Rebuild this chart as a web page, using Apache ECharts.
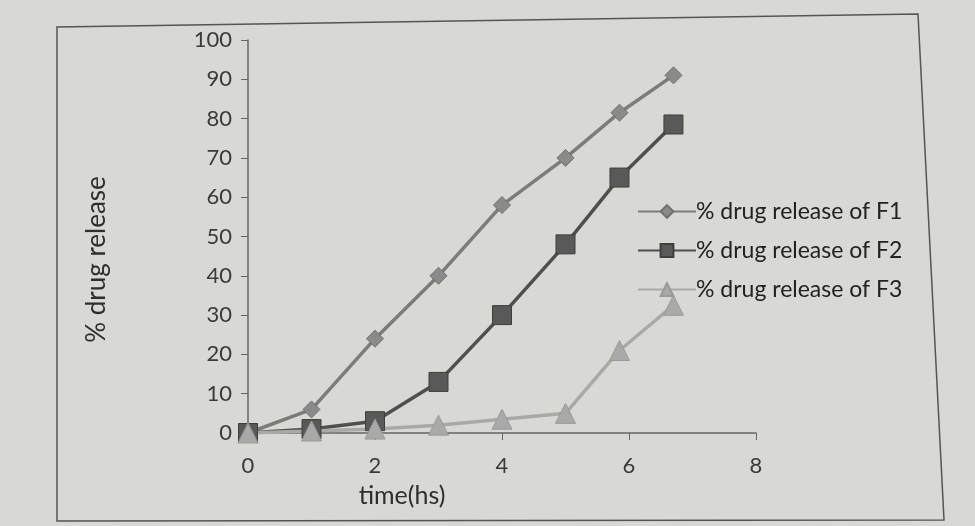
<!DOCTYPE html>
<html>
<head>
<meta charset="utf-8">
<script src="https://cdn.jsdelivr.net/npm/echarts@6/dist/echarts.min.js"></script>
<style>
html,body{margin:0;padding:0;background:#d8d8d5;}
#c{width:975px;height:526px;}
</style>
</head>
<body>
<div id="c"></div>
<script>
const timeHours = [0, 1, 2, 3, 4, 5, 5.85, 6.7];
const releaseF1 = [0, 6, 24, 40, 58, 70, 81.5, 91];
const releaseF2 = [0, 1, 3, 13, 30, 48, 65, 78.5];
const releaseF3 = [0, 0.5, 1, 2, 3.5, 5, 21, 32.5];
const seriesNames = ['% drug release of F1', '% drug release of F2', '% drug release of F3'];
const xTicks = [0, 2, 4, 6, 8];
const yTicks = [0, 10, 20, 30, 40, 50, 60, 70, 80, 90, 100];

const pairs = v => timeHours.map((t, i) => [t, v[i]]);
const font = 'Lato, "Open Sans", sans-serif';

const chart = echarts.init(document.getElementById('c'));
chart.setOption({
  backgroundColor: 'transparent',
  animation: false,
  textStyle: { fontFamily: font },
  graphic: [{
    type: 'polygon',
    shape: { points: [[57, 27], [918, 14], [944, 520], [57, 521]] },
    style: { fill: 'none', stroke: '#555', lineWidth: 1.5 },
    z: -1
  }],
  grid: { left: 248, top: 40, width: 508, height: 393 },
  xAxis: {
    type: 'value', min: xTicks[0], max: xTicks[xTicks.length - 1], interval: 2,
    name: 'time(hs)', nameLocation: 'middle', nameGap: 50,
    nameTextStyle: { fontSize: 25, color: '#2e2e2e', fontFamily: font, padding: [0, 200, 0, 0] },
    axisLine: { lineStyle: { color: '#666', width: 1.5 } },
    axisTick: { show: true, length: 7, lineStyle: { color: '#666' } },
    axisLabel: { fontSize: 22, color: '#3a3a3a', margin: 22, fontFamily: font },
    splitLine: { show: false }
  },
  yAxis: {
    type: 'value', min: yTicks[0], max: yTicks[yTicks.length - 1], interval: 10,
    name: '% drug release', nameLocation: 'middle', nameGap: 138, nameRotate: 90,
    nameTextStyle: { fontSize: 26, color: '#2e2e2e', fontFamily: font, padding: [0, 46, 0, 0] },
    axisLine: { show: true, lineStyle: { color: '#666', width: 1.5 } },
    axisTick: { show: true, length: 7, lineStyle: { color: '#666' } },
    axisLabel: { fontSize: 22, color: '#3a3a3a', margin: 16, fontFamily: font },
    splitLine: { show: false }
  },
  legend: {
    orient: 'vertical', left: 632, top: 195, itemGap: 16,
    itemWidth: 58, itemHeight: 16,
    textStyle: { fontSize: 23, color: '#222', fontFamily: font, padding: [0, 0, 0, -5] },
    data: seriesNames
  },
  series: [
    {
      name: seriesNames[0], type: 'line', data: pairs(releaseF1),
      symbol: 'diamond', symbolSize: 17,
      lineStyle: { color: '#7c7c7c', width: 3.5 },
      itemStyle: { color: '#8a8a8a', borderColor: '#707070', borderWidth: 1 }
    },
    {
      name: seriesNames[1], type: 'line', data: pairs(releaseF2),
      symbol: 'rect', symbolSize: 19,
      lineStyle: { color: '#4f4f4f', width: 3.5 },
      itemStyle: { color: '#595959', borderColor: '#3e3e3e', borderWidth: 1 }
    },
    {
      name: seriesNames[2], type: 'line', data: pairs(releaseF3),
      symbol: 'triangle', symbolSize: 20,
      lineStyle: { color: '#a9a9a9', width: 3.5 },
      itemStyle: { color: '#a9a9a9', borderColor: '#9a9a9a', borderWidth: 1 }
    }
  ]
});
</script>
</body>
</html>
